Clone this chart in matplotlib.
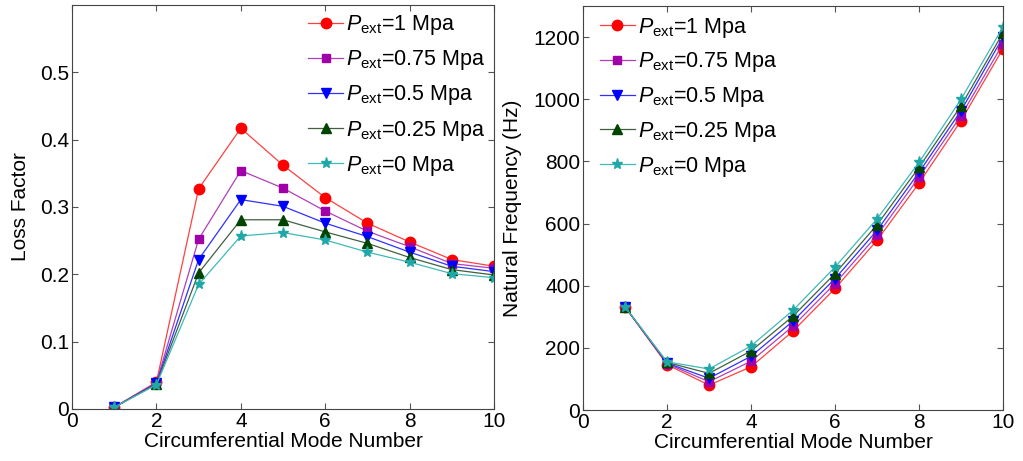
import matplotlib.pyplot as plt
import numpy as np

plt.rcParams['font.family'] = 'Liberation Sans'
plt.rcParams['mathtext.fontset'] = 'custom'
plt.rcParams['mathtext.rm'] = 'Liberation Sans'
plt.rcParams['mathtext.it'] = 'Liberation Sans:italic'

modes = np.arange(1, 11)
labels = [r'$P_{\mathrm{ext}}$=1 Mpa', r'$P_{\mathrm{ext}}$=0.75 Mpa', r'$P_{\mathrm{ext}}$=0.5 Mpa',
          r'$P_{\mathrm{ext}}$=0.25 Mpa', r'$P_{\mathrm{ext}}$=0 Mpa']

# loss factor
loss_1 = [0.0025, 0.040, 0.327, 0.417, 0.362, 0.314, 0.276, 0.248, 0.222, 0.212]
loss_075 = [0.0025, 0.039, 0.252, 0.354, 0.328, 0.294, 0.264, 0.241, 0.216, 0.209]
loss_05 = [0.0025, 0.038, 0.222, 0.311, 0.301, 0.276, 0.256, 0.233, 0.212, 0.204]
loss_025 = [0.0025, 0.037, 0.202, 0.281, 0.281, 0.263, 0.246, 0.225, 0.207, 0.199]
loss_0 = [0.0025, 0.036, 0.185, 0.257, 0.262, 0.251, 0.233, 0.218, 0.201, 0.195]

# natural frequency (Hz)
freq_1 = [332, 146, 80, 139, 254, 391, 546, 730, 931, 1163]
freq_075 = [332, 149, 91, 157, 270, 407, 562, 749, 947, 1179]
freq_05 = [332, 151, 102, 173, 286, 423, 578, 765, 963, 1200]
freq_025 = [332, 153, 118, 190, 302, 439, 596, 781, 979, 1214]
freq_0 = [332, 155, 132, 206, 321, 460, 615, 797, 1000, 1233]

colors = ['#ff0000', '#a000a8', '#0000ff', '#004400', '#20a8a8']
lcolors = ['#ff4040', '#b040b8', '#3030ff', '#406040', '#40b8b8']
markers = ['o', 's', 'v', '^', '*']
msizes = [7.5, 6, 7, 7, 8]

fig = plt.figure(figsize=(10.23, 4.61), dpi=100)
ax1 = fig.add_axes([0.0704, 0.1128, 0.4125, 0.8764])
ax2 = fig.add_axes([0.5699, 0.1106, 0.4106, 0.8764])

for ax, data in [(ax1, [loss_1, loss_075, loss_05, loss_025, loss_0]),
                 (ax2, [freq_1, freq_075, freq_05, freq_025, freq_0])]:
    for i in range(5):
        ax.plot(modes, data[i], color=lcolors[i], lw=0.9, marker=markers[i], ms=msizes[i],
                mfc=colors[i], mec=colors[i], label=labels[i])
    ax.set_xlim(0, 10)
    ax.set_xticks([0, 2, 4, 6, 8, 10])
    ax.tick_params(direction='in', length=4, top=True, right=True, labelsize=15, color='#555555', pad=2)
    ax.set_xlabel('Circumferential Mode Number', fontsize=15, labelpad=1)
    for s in ax.spines.values():
        s.set_color('#444444')
        s.set_linewidth(0.8)

ax1.set_ylim(0, 0.6)
ax1.set_yticks([0, 0.1, 0.2, 0.3, 0.4, 0.5])
ax1.set_yticklabels(['0', '0.1', '0.2', '0.3', '0.4', '0.5'])
ax1.set_ylabel('Loss Factor', fontsize=15, labelpad=7)
ax1.legend(loc='upper right', bbox_to_anchor=(1.01, 1.012), frameon=False, fontsize=15.5,
           handlelength=1.6, handletextpad=0.15, labelspacing=0.52, borderaxespad=0.2)

ax2.set_ylim(0, 1300)
ax2.set_yticks([0, 200, 400, 600, 800, 1000, 1200])
ax2.set_ylabel('Natural Frequency (Hz)', fontsize=15, labelpad=8)
ax2.legend(loc='upper left', bbox_to_anchor=(0.01, 1.008), frameon=False, fontsize=15.5,
           handlelength=1.6, handletextpad=0.15, labelspacing=0.5, borderaxespad=0.2)

fig.savefig('out.png', dpi=100)
